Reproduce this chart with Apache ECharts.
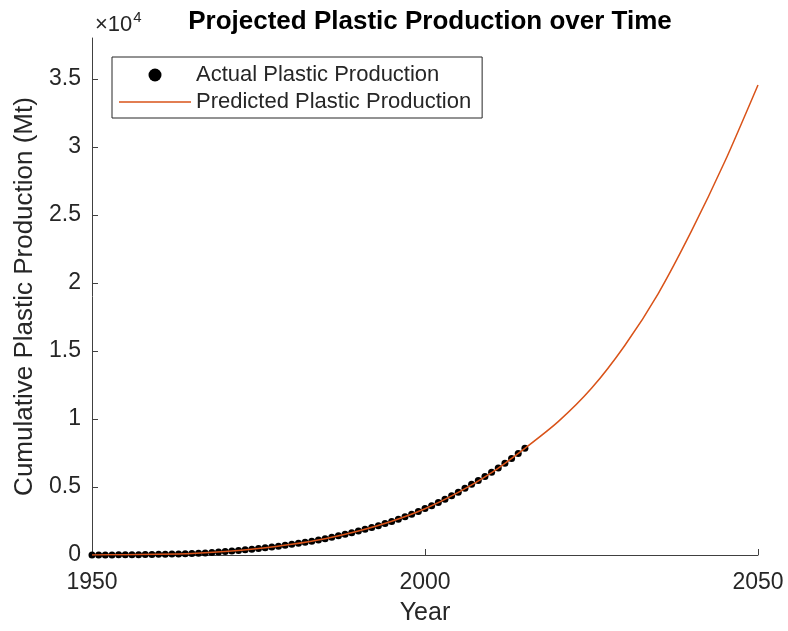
<!DOCTYPE html>
<html>
<head>
<meta charset="utf-8">
<script src="https://cdn.jsdelivr.net/npm/echarts@6/dist/echarts.min.js"></script>
<style>html,body{margin:0;padding:0;background:#fff;}#c{width:788px;height:631px;}</style>
</head>
<body>
<div id="c"></div>
<script>
const actualYears = [1950,1951,1952,1953,1954,1955,1956,1957,1958,1959,1960,1961,1962,1963,1964,1965,1966,1967,1968,1969,1970,1971,1972,1973,1974,1975,1976,1977,1978,1979,1980,1981,1982,1983,1984,1985,1986,1987,1988,1989,1990,1991,1992,1993,1994,1995,1996,1997,1998,1999,2000,2001,2002,2003,2004,2005,2006,2007,2008,2009,2010,2011,2012,2013,2014,2015];
const actualValues = [2,4,6,9,12,16,21,26,32,39,47,56,67,80,95,112,132,155,182,214,249,287,332,382,429,475,529,588,651,721,791,863,938,1019,1106,1199,1300,1407,1523,1643,1763,1888,2020,2157,2307,2463,2628,2808,2996,3198,3411,3629,3860,4101,4357,4620,4900,5195,5476,5764,6077,6402,6740,7092,7459,7840];
const predYears = [1950,1955,1960,1965,1970,1975,1980,1985,1990,1995,2000,2005,2010,2015,2020,2025,2030,2035,2040,2045,2050];
const predValues = [5,20,50,110,250,480,790,1200,1760,2480,3400,4600,6050,7840,9800,12250,15400,19200,23800,28900,34550];
const xTicks = [1950,2000,2050];
const yTicks = [0,5000,10000,15000,20000,25000,30000,35000];

const txt = '#262626';
const ff = '"Liberation Sans", Arial, Helvetica, sans-serif';
const chart = echarts.init(document.getElementById('c'), null, {renderer:'canvas'});
chart.setOption({
  animation: false,
  backgroundColor: '#fff',
  title: {
    text: 'Projected Plastic Production over Time',
    left: 425, textAlign: 'center', top: 4,
    textStyle: {fontFamily: ff, fontSize: 26, fontWeight: 'bold', color: '#000'}
  },
  graphic: [{
    type: 'text', left: 95, top: 10,
    style: {
      text: '{a|×10}{b|4}', fontFamily: ff,
      rich: {
        a: {fontSize: 22, fontFamily: ff, fill: txt, color: txt, verticalAlign: 'bottom', lineHeight: 26},
        b: {fontSize: 15, fontFamily: ff, fill: txt, color: txt, verticalAlign: 'top', lineHeight: 26, padding:[0,0,12,1]}
      }
    }
  }],
  legend: {
    orient: 'vertical', left: 112, top: 57,
    itemWidth: 72, itemHeight: 13, itemGap: 5,
    padding: [7, 11, 5, 7],
    borderColor: txt, borderWidth: 1, backgroundColor: '#fff',
    textStyle: {fontFamily: ff, fontSize: 22, color: txt},
    data: [
      {name: 'Actual Plastic Production', icon: 'circle', itemStyle: {color: '#000', opacity: 1}},
      {name: 'Predicted Plastic Production', icon: 'path://M0,0H100V2H0Z', itemStyle: {color: '#D95319'}}
    ]
  },
  grid: {left: 92, right: 30, top: 38, bottom: 74},
  xAxis: {
    type: 'value', min: 1950, max: 2050, interval: 50,
    name: 'Year', nameLocation: 'middle', nameGap: 46,
    nameTextStyle: {fontFamily: ff, fontSize: 25, color: txt},
    axisLine: {lineStyle: {color: '#404040', width: 1}},
    axisTick: {inside: true, length: 6, lineStyle: {color: '#404040'}, customValues: xTicks},
    axisLabel: {fontFamily: ff, fontSize: 23, color: txt, margin: 16, customValues: xTicks,
      formatter: v => String(v)},
    splitLine: {show: false}
  },
  yAxis: {
    type: 'value', min: 0, max: 38000, interval: 5000,
    name: 'Cumulative Plastic Production (Mt)', nameLocation: 'middle', nameGap: 50,
    nameTextStyle: {fontFamily: ff, fontSize: 26, color: txt},
    axisLine: {show: true, lineStyle: {color: '#404040', width: 1}},
    axisTick: {show: true, inside: true, length: 6, lineStyle: {color: '#404040'}, customValues: yTicks},
    axisLabel: {fontFamily: ff, fontSize: 23, color: txt, margin: 11, customValues: yTicks,
      formatter: v => String(+(v/10000).toFixed(2))},
    splitLine: {show: false}
  },
  series: [
    {
      name: 'Actual Plastic Production', type: 'scatter',
      data: actualYears.map((y,i)=>[y, actualValues[i]]),
      symbol: 'circle', symbolSize: 7,
      itemStyle: {color: '#000', opacity: 1}, z: 2
    },
    {
      name: 'Predicted Plastic Production', type: 'line',
      data: predYears.map((y,i)=>[y, predValues[i]]),
      smooth: 0.25, showSymbol: false, symbol: 'none',
      lineStyle: {color: '#D95319', width: 1.5},
      itemStyle: {color: '#D95319'}, z: 3
    }
  ]
});
</script>
</body>
</html>
